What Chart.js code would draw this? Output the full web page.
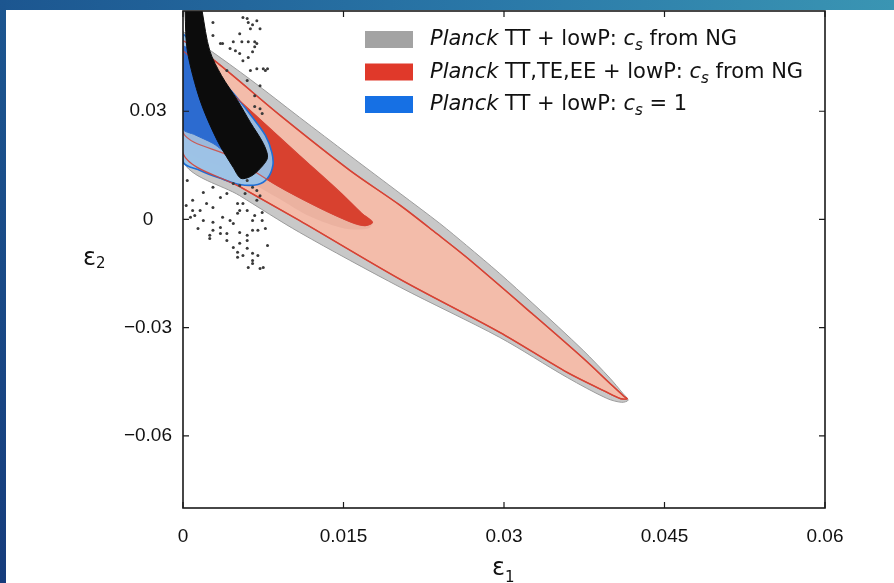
<!DOCTYPE html>
<html>
<head>
<meta charset="utf-8">
<title>epsilon1 - epsilon2</title>
<script src="https://cdn.jsdelivr.net/npm/chart.js@4.4.1/dist/chart.umd.min.js"></script>
<style>
  html, body { margin: 0; padding: 0; }
  body { width: 894px; height: 583px; overflow: hidden; position: relative;
    background: linear-gradient(to right, #1c5690 0%, #2a78a8 55%, #3a95b3 100%); }
  #edge { position: absolute; left: 0; top: 0; width: 6px; height: 583px;
    background: linear-gradient(to bottom, #1c5690, #163c7c); }
  #panel { position: absolute; left: 6px; top: 10px; right: 0; bottom: 0; background: #fff; }
  #chart { position: absolute; left: 0; top: 0; }
</style>
</head>
<body>
<div id="edge"></div>
<div id="panel"></div>
<canvas id="chart" width="894" height="583"></canvas>
<script>
// axes
var xTicks = [0, 0.015, 0.03, 0.045, 0.06];
var xTickLabels = ['0', '0.015', '0.03', '0.045', '0.06'];
var yTicks = [-0.06, -0.03, 0, 0.03];
var yTickLabels = ['\u22120.06', '\u22120.03', '0', '0.03'];

// contour outlines as [eps1, eps2], walked round each region
var ttNg95 = [[0, 0.0521], [0.0023, 0.0474], [0.0063, 0.0388], [0.0109, 0.0283], [0.0156, 0.0177],
  [0.0203, 0.0072], [0.0240, -0.0011], [0.0265, -0.0072], [0.0296, -0.0150], [0.0327, -0.0233],
  [0.0374, -0.0363], [0.0399, -0.0440], [0.0411, -0.0482], [0.0416, -0.0501], [0.0410, -0.0507],
  [0.0396, -0.0496], [0.0359, -0.0438], [0.0296, -0.0327], [0.0203, -0.0188], [0.0109, -0.0036],
  [0.0053, 0.0066], [0, 0.0163], [0, 0.0521]];

var allNg95 = [[0, 0.0496], [0.0027, 0.0446], [0.0091, 0.0288], [0.0156, 0.0136], [0.0203, 0.0039],
  [0.0237, -0.0039], [0.0265, -0.0105], [0.0327, -0.0263], [0.0374, -0.0385], [0.0401, -0.0460],
  [0.0412, -0.0490], [0.0415, -0.0497], [0.0409, -0.0497], [0.0394, -0.0476], [0.0359, -0.0424],
  [0.0296, -0.0313], [0.0203, -0.0166], [0.0109, -0.0003], [0.0053, 0.0091], [0, 0.0183], [0, 0.0496]];

var ttNg68 = [[0, 0.0468], [0.0030, 0.0391], [0.0060, 0.0310], [0.0109, 0.0177], [0.0147, 0.0075],
  [0.0167, 0.0017], [0.0177, -0.0008], [0.0173, -0.0025], [0.0151, -0.0025], [0.0119, 0.0008],
  [0.0088, 0.0061], [0.0044, 0.0136], [0, 0.0205], [0, 0.0468]];

var allNg68 = [[0, 0.0468], [0.0030, 0.0391], [0.0060, 0.0310], [0.0109, 0.0177], [0.0147, 0.0075],
  [0.0167, 0.0017], [0.0177, -0.0008], [0.0170, -0.0017], [0.0156, -0.0006], [0.0125, 0.0036],
  [0.0088, 0.0094], [0.0044, 0.0175], [0, 0.0241], [0, 0.0468]];

var cs1_95 = [[0, 0.0515], [0.0011, 0.0482], [0.0021, 0.0440], [0.0030, 0.0407], [0.0049, 0.0343],
  [0.0065, 0.0283], [0.0077, 0.0233], [0.0083, 0.0186], [0.0084, 0.0150], [0.0079, 0.0114],
  [0.0070, 0.0097], [0.0053, 0.0097], [0.0035, 0.0114], [0.0016, 0.0136], [0, 0.0161], [0, 0.0515]];

var cs1_68 = [[0, 0.0482], [0.0011, 0.0463], [0.0025, 0.0399], [0.0039, 0.0330], [0.0051, 0.0260],
  [0.0055, 0.0205], [0.0046, 0.0177], [0.0028, 0.0211], [0.0011, 0.0235], [0, 0.0252], [0, 0.0482]];

// dense part of the model sample
var modelCore = [[0.0002, 0.0620], [0.0002, 0.0576], [0.0004, 0.0468], [0.0016, 0.0330], [0.0032, 0.0219],
  [0.0047, 0.0144], [0.0054, 0.0114], [0.0063, 0.0119], [0.0072, 0.0141], [0.0079, 0.0172],
  [0.0075, 0.0211], [0.0063, 0.0269], [0.0051, 0.0330], [0.0036, 0.0399], [0.0025, 0.0468],
  [0.0018, 0.0576], [0.0016, 0.0620], [0.0002, 0.0620]];

// loose model points
var modelPoints = [[0.0028, 0.0546], [0.0056, 0.0560], [0.0061, 0.0546], [0.0065, 0.0540], [0.0072, 0.0529],
  [0.0053, 0.0515], [0.0028, 0.0510], [0.0037, 0.0488], [0.0047, 0.0493], [0.0055, 0.0493], [0.0061, 0.0493],
  [0.0067, 0.0493], [0.0044, 0.0474], [0.0067, 0.0479], [0.0053, 0.0460], [0.0065, 0.0465], [0.0061, 0.0449],
  [0.0056, 0.0440], [0.0063, 0.0413], [0.0069, 0.0418], [0.0075, 0.0418], [0.0079, 0.0418], [0.0041, 0.0413],
  [0.0060, 0.0385], [0.0072, 0.0371], [0.0067, 0.0343], [0.0072, 0.0307], [0.0067, 0.0313], [0.0074, 0.0294],
  [0.0060, 0.0557], [0.0069, 0.0551], [0.0063, 0.0529], [0.0035, 0.0488], [0.0069, 0.0488], [0.0049, 0.0468],
  [0.0077, 0.0413],
  [0.0004, 0.0108], [0.0019, 0.0075], [0.0028, 0.0089], [0.0009, 0.0053], [0.0035, 0.0061], [0.0041, 0.0072],
  [0.0051, 0.0044], [0.0056, 0.0044], [0.0053, 0.0025], [0.0060, 0.0025], [0.0069, 0.0053], [0.0016, 0.0025],
  [0.0007, 0.0006], [0.0011, 0.0011], [0.0019, -0.0003], [0.0028, -0.0008], [0.0037, 0.0006], [0.0044, -0.0003],
  [0.0035, -0.0022], [0.0047, -0.0011], [0.0051, 0.0017], [0.0065, -0.0003], [0.0067, 0.0011], [0.0074, 0.0019],
  [0.0074, -0.0003], [0.0028, -0.0030], [0.0025, -0.0044], [0.0041, -0.0039], [0.0053, -0.0036], [0.0060, -0.0044],
  [0.0065, -0.0030], [0.0070, -0.0030], [0.0060, -0.0058], [0.0053, -0.0066], [0.0047, -0.0078], [0.0051, -0.0091],
  [0.0060, -0.0080], [0.0065, -0.0094], [0.0056, -0.0100], [0.0070, -0.0100], [0.0051, -0.0105], [0.0065, -0.0122],
  [0.0072, -0.0136], [0.0075, -0.0133], [0.0061, -0.0133], [0.0060, 0.0108], [0.0065, 0.0089], [0.0069, 0.0080],
  [0.0053, 0.0094], [0.0058, 0.0072], [0.0047, 0.0100], [0.0072, 0.0066], [0.0022, 0.0044], [0.0028, 0.0033],
  [0.0009, 0.0025], [0.0035, -0.0039], [0.0041, -0.0058], [0.0065, -0.0114], [0.0025, -0.0053], [0.0079, -0.0072],
  [0.0077, -0.0025], [0.0014, -0.0025], [0.0003, 0.0039]];

// legend rows: [colour, text pieces]  (i = italic, sub = subscript)
var legendRows = [
  ['#a3a3a3', [{t: 'Planck', i: true}, {t: ' TT + lowP: '}, {t: 'c', i: true}, {t: 's', i: true, sub: true}, {t: ' from NG'}]],
  ['#e0392a', [{t: 'Planck', i: true}, {t: ' TT,TE,EE + lowP: '}, {t: 'c', i: true}, {t: 's', i: true, sub: true}, {t: ' from NG'}]],
  ['#1670e4', [{t: 'Planck', i: true}, {t: ' TT + lowP: '}, {t: 'c', i: true}, {t: 's', i: true, sub: true}, {t: ' = 1'}]]
];

var toXY = (arr) => arr.map(p => ({x: p[0], y: p[1]}));

var region = (arr, fillColor, lineColor, lineWidth, order) => ({
  data: toXY(arr), showLine: true, fill: 'shape', backgroundColor: fillColor,
  borderColor: lineColor, borderWidth: lineWidth, pointRadius: 0, tension: 0.3, order: order
});

var outline = (arr, lineColor, lineWidth, order) => ({
  data: toXY(arr), showLine: true, fill: false, borderColor: lineColor,
  borderWidth: lineWidth, pointRadius: 0, tension: 0.3, order: order
});

var tickFont = {family: '"Liberation Sans", Arial, sans-serif', size: 19};

var drawPieces = (c, pieces, x, y, size) => {
  pieces.forEach(p => {
    let fs = p.sub ? Math.round(size * 0.7) : size;
    c.font = (p.i ? 'italic ' : '') + fs + 'px "DejaVu Sans", sans-serif';
    c.fillText(p.t, x, p.sub ? y + 5 : y);
    x += c.measureText(p.t).width;
  });
};

var frameAndText = {
  id: 'frameAndText',
  afterDraw(chart) {
    let c = chart.ctx, a = chart.chartArea, sx = chart.scales.x, sy = chart.scales.y;
    c.save();
    c.strokeStyle = '#1a1a1a';
    c.lineWidth = 1.6;
    c.strokeRect(a.left, a.top, a.right - a.left, a.bottom - a.top);

    // inward ticks on all four sides
    c.lineWidth = 1.2;
    c.beginPath();
    xTicks.forEach(v => {
      let px = sx.getPixelForValue(v);
      c.moveTo(px, a.bottom); c.lineTo(px, a.bottom - 6);
      c.moveTo(px, a.top); c.lineTo(px, a.top + 6);
    });
    yTicks.forEach(v => {
      let py = sy.getPixelForValue(v);
      c.moveTo(a.left, py); c.lineTo(a.left + 6, py);
      c.moveTo(a.right, py); c.lineTo(a.right - 6, py);
    });
    c.stroke();

    // axis titles
    c.fillStyle = '#111';
    c.textBaseline = 'alphabetic';
    c.textAlign = 'left';
    c.font = '24px "DejaVu Sans", sans-serif';
    c.fillText('\u03b5', a.left - 100, 265);
    let w = c.measureText('\u03b5').width;
    c.font = '15px "DejaVu Sans", sans-serif';
    c.fillText('2', a.left - 100 + w, 268);
    c.font = '24px "DejaVu Sans", sans-serif';
    c.fillText('\u03b5', (a.left + a.right) / 2 - 12, 575);
    c.font = '15px "DejaVu Sans", sans-serif';
    c.fillText('1', (a.left + a.right) / 2 - 12 + w, 582);

    // legend
    let bx = a.right - 460, by = a.top + 20;
    legendRows.forEach((row, i) => {
      let top = by + i * 32.5;
      c.fillStyle = row[0];
      c.fillRect(bx, top, 48, 17);
      c.fillStyle = '#111';
      drawPieces(c, row[1], bx + 65, top + 14, 21);
    });
    c.restore();
  }
};

new Chart(document.getElementById('chart'), {
  type: 'scatter',
  data: {
    datasets: [
      region(ttNg95, '#c8c8c8', '#9c9c9c', 1, 9),
      region(allNg95, '#f3bcaa', '#d8473a', 1.4, 8),
      region(ttNg68, 'rgba(150, 80, 70, 0.09)', 'rgba(0,0,0,0)', 0, 7),
      region(allNg68, '#d8412f', '#d8412f', 1, 6),
      region(cs1_95, 'rgba(150, 195, 235, 0.92)', '#1f6fd6', 1.6, 5),
      region(cs1_68, '#2c6bd0', '#2c6bd0', 1, 4),
      outline(allNg95, 'rgba(214, 66, 52, 0.9)', 1.3, 3),
      outline(allNg68, 'rgba(214, 66, 52, 0.8)', 1.2, 2),
      region(modelCore, '#0c0c0c', '#0c0c0c', 1, 1),
      {data: toXY(modelPoints), pointRadius: 1.5, pointBackgroundColor: '#3a3a3a', pointBorderWidth: 0, order: 0}
    ]
  },
  options: {
    responsive: false,
    animation: false,
    layout: {padding: {top: 11, right: 69, left: 0, bottom: 0}},
    elements: {line: {capBezierPoints: false}},
    plugins: {legend: {display: false}, tooltip: {enabled: false}},
    scales: {
      x: {
        type: 'linear', min: 0, max: 0.06,
        grid: {display: false}, border: {display: false},
        afterBuildTicks: s => { s.ticks = xTicks.map(v => ({value: v})); },
        afterFit: s => { s.height = 75; s.paddingLeft = 0; s.paddingRight = 0; },
        ticks: {padding: 9, font: tickFont, color: '#111', maxRotation: 0, autoSkip: false,
          callback: (v, i) => xTickLabels[i]}
      },
      y: {
        type: 'linear', min: -0.08, max: 0.0578,
        grid: {display: false}, border: {display: false},
        afterBuildTicks: s => { s.ticks = yTicks.map(v => ({value: v})); },
        afterFit: s => { s.width = 183; s.paddingTop = 0; s.paddingBottom = 0; },
        ticks: {padding: 3, crossAlign: 'center', font: tickFont, color: '#111', autoSkip: false,
          callback: (v, i) => yTickLabels[i]}
      }
    }
  },
  plugins: [frameAndText]
});
</script>
</body>
</html>
